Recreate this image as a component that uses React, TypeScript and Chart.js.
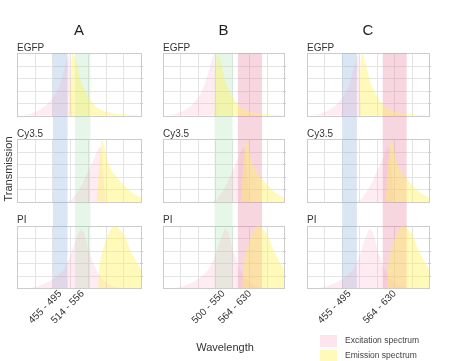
import React, { useEffect, useRef } from "react";
import { Chart, registerables } from "chart.js";

Chart.register(...registerables);

// ---------- data ----------
const panelTitles = ["A", "B", "C"];
const dyeNames = ["EGFP", "Cy3.5", "PI"];
const xAxisTitle = "Wavelength";
const yAxisTitle = "Transmission";
const legendLabels = ["Excitation spectrum", "Emission spectrum"];

const xMin = 360;
const xMax = 690;

const egfpExNm = [375, 390, 405, 420, 435, 450, 462, 474, 484, 492, 499, 503, 507];
const egfpExVal = [0, 0.02, 0.05, 0.09, 0.15, 0.24, 0.34, 0.5, 0.7, 0.88, 1.0, 0.45, 0];
const egfpEmNm = [500, 503, 507, 513, 520, 530, 542, 556, 572, 592, 620, 650, 690];
const egfpEmVal = [0, 0.55, 1.0, 0.95, 0.8, 0.55, 0.38, 0.24, 0.13, 0.07, 0.03, 0.015, 0];

const cyExNm = [480, 495, 507, 520, 535, 550, 562, 572, 580, 585, 590, 596];
const cyExVal = [0, 0.01, 0.04, 0.15, 0.3, 0.5, 0.65, 0.8, 0.88, 0.85, 0.4, 0];
const cyEmNm = [572, 578, 584, 588, 595, 603, 615, 628, 640, 655, 670, 690];
const cyEmVal = [0, 0.5, 0.95, 1.0, 0.82, 0.62, 0.47, 0.38, 0.3, 0.2, 0.13, 0.07];

const piExNm = [395, 420, 445, 465, 485, 500, 515, 528, 538, 550, 565, 585, 610, 635];
const piExVal = [0, 0.04, 0.1, 0.18, 0.3, 0.48, 0.75, 0.95, 0.9, 0.62, 0.36, 0.15, 0.04, 0];
const piEmNm = [576, 580, 586, 597, 608, 618, 630, 645, 660, 675, 690];
const piEmVal = [0, 0.4, 0.56, 0.78, 0.93, 1.0, 0.96, 0.86, 0.62, 0.45, 0.3];

const bandsA = [[455, 495], [514, 556]];
const bandsB = [[500, 550], [564, 630]];
const bandsC = [[455, 495], [564, 630]];
const bandKindsA = ["blue", "green"];
const bandKindsB = ["green", "red"];
const bandKindsC = ["blue", "red"];
const tickLabelsA = ["455 - 495", "514 - 556"];
const tickLabelsB = ["500 - 550", "564 - 630"];
const tickLabelsC = ["455 - 495", "564 - 630"];

// ---------- styles ----------
const FONT = "'Liberation Sans', Arial, Helvetica, sans-serif";
const GAP = 0.38;
const Y_TOP = 3 + 2 * GAP;
const rowBases = [2 * (1 + GAP), 1 + GAP, 0];
const exFill = "rgba(250,150,185,0.18)";
const emFill = "rgba(255,240,90,0.42)";
const bandFill: Record<string, string> = {
  blue: "rgba(125,165,215,0.28)",
  green: "rgba(150,220,165,0.24)",
  red: "rgba(230,120,150,0.3)",
};
const gridColor = "#e4e4e4";
const frameColor = "#cccccc";

const spectra = [
  { exNm: egfpExNm, ex: egfpExVal, emNm: egfpEmNm, em: egfpEmVal },
  { exNm: cyExNm, ex: cyExVal, emNm: cyEmNm, em: cyEmVal },
  { exNm: piExNm, ex: piExVal, emNm: piEmNm, em: piEmVal },
];

const panels = [
  { title: panelTitles[0], bands: bandsA, kinds: bandKindsA, ticks: tickLabelsA, left: 0, width: 150, padL: 17, padR: 9, extra: "y" },
  { title: panelTitles[1], bands: bandsB, kinds: bandKindsB, ticks: tickLabelsB, left: 150, width: 150, padL: 13, padR: 16, extra: "x" },
  { title: panelTitles[2], bands: bandsC, kinds: bandKindsC, ticks: tickLabelsC, left: 300, width: 159, padL: 7, padR: 30, extra: "legend" },
];

function buildDatasets(p: any) {
  const ds: any[] = [];
  p.bands.forEach((b: number[], i: number) => {
    ds.push({
      data: [{ x: b[0], y: Y_TOP }, { x: b[1], y: Y_TOP }],
      fill: { value: 0 },
      backgroundColor: bandFill[p.kinds[i]],
      borderWidth: 0,
      pointRadius: 0,
      tension: 0,
      order: 3,
    });
  });
  spectra.forEach((s, r) => {
    const base = rowBases[r];
    ds.push({
      data: s.exNm.map((x, i) => ({ x, y: base + s.ex[i] })),
      fill: { value: base },
      backgroundColor: exFill,
      borderWidth: 0,
      pointRadius: 0,
      tension: 0,
      order: 2,
    });
    ds.push({
      data: s.emNm.map((x, i) => ({ x, y: base + s.em[i] })),
      fill: { value: base },
      backgroundColor: emFill,
      borderWidth: 0,
      pointRadius: 0,
      tension: 0,
      order: 1,
    });
  });
  return ds;
}

function makeDecor(p: any, idx: number) {
  return {
    id: "decor" + idx,
    beforeDatasetsDraw(chart: any) {
      const ctx = chart.ctx;
      const xs = chart.scales.x;
      const ys = chart.scales.y;
      const l = Math.round(xs.getPixelForValue(xMin));
      const r = Math.round(xs.getPixelForValue(xMax));
      ctx.save();
      ctx.lineWidth = 1;
      rowBases.forEach((base) => {
        const top = Math.round(ys.getPixelForValue(base + 1));
        const bot = Math.round(ys.getPixelForValue(base));
        ctx.strokeStyle = gridColor;
        ctx.beginPath();
        for (let i = 1; i < 7; i++) {
          const px = Math.round(xs.getPixelForValue(xMin + ((xMax - xMin) * i) / 7)) + 0.5;
          ctx.moveTo(px, top);
          ctx.lineTo(px, bot);
        }
        for (let j = 1; j < 5; j++) {
          const py = Math.round(ys.getPixelForValue(base + j / 5)) + 0.5;
          ctx.moveTo(l, py);
          ctx.lineTo(r, py);
        }
        ctx.stroke();
        ctx.strokeStyle = frameColor;
        ctx.strokeRect(l + 0.5, top + 0.5, r - l, bot - top);
        ctx.beginPath();
        for (let j = 1; j < 5; j++) {
          const py = Math.round(ys.getPixelForValue(base + j / 5)) + 0.5;
          ctx.moveTo(r - 1, py);
          ctx.lineTo(r + 2, py);
        }
        ctx.stroke();
      });
      ctx.restore();
    },
    afterDraw(chart: any) {
      const ctx = chart.ctx;
      const ys = chart.scales.y;
      const area = chart.chartArea;
      ctx.save();
      ctx.fillStyle = "#1e1e1e";
      ctx.font = `15px ${FONT}`;
      ctx.textAlign = "center";
      ctx.textBaseline = "alphabetic";
      ctx.fillText(p.title, (area.left + area.right) / 2, 35);
      ctx.fillStyle = "#333";
      ctx.font = `10px ${FONT}`;
      ctx.textAlign = "left";
      rowBases.forEach((base, r) => {
        const top = ys.getPixelForValue(base + 1);
        ctx.fillText(dyeNames[r], area.left, top - 2.5);
      });
      if (p.extra === "y") {
        ctx.font = `11px ${FONT}`;
        ctx.translate(12, 169);
        ctx.rotate(-Math.PI / 2);
        ctx.textAlign = "center";
        ctx.fillText(yAxisTitle, 0, 0);
      } else if (p.extra === "x") {
        ctx.font = `11px ${FONT}`;
        ctx.textAlign = "center";
        ctx.fillText(xAxisTitle, 225 - p.left, 351);
      } else if (p.extra === "legend") {
        ctx.font = `8.5px ${FONT}`;
        ctx.textBaseline = "middle";
        ctx.fillStyle = "rgba(250,150,185,0.25)";
        ctx.fillRect(320 - p.left, 335, 17, 12);
        ctx.fillStyle = emFill;
        ctx.fillRect(320 - p.left, 350, 17, 12);
        ctx.fillStyle = "#444";
        ctx.fillText(legendLabels[0], 345 - p.left, 341);
        ctx.fillText(legendLabels[1], 345 - p.left, 356);
      }
      ctx.restore();
    },
  };
}

function Panel({ p, idx }: { p: any; idx: number }) {
  const ref = useRef<HTMLCanvasElement | null>(null);
  useEffect(() => {
    if (!ref.current) return;
    const centers = p.bands.map((b: number[]) => (b[0] + b[1]) / 2);
    const chart = new Chart(ref.current, {
      type: "line",
      data: { datasets: buildDatasets(p) },
      options: {
        animation: false,
        responsive: false,
        devicePixelRatio: 1,
        events: [],
        layout: { padding: { left: p.padL, right: p.padR, top: 53, bottom: 0 } },
        plugins: {
          legend: { display: false },
          tooltip: { enabled: false },
          title: { display: false },
        },
        scales: {
          x: {
            type: "linear",
            min: xMin,
            max: xMax,
            grid: { display: false, drawTicks: false },
            border: { display: false },
            afterBuildTicks: (s: any) => {
              s.ticks = centers.map((v: number) => ({ value: v }));
            },
            afterFit: (s: any) => {
              s.height = 73;
              s.paddingLeft = 0;
              s.paddingRight = 0;
            },
            ticks: {
              autoSkip: false,
              maxRotation: 45,
              minRotation: 45,
              padding: 0,
              color: "#333",
              font: { family: FONT, size: 10 },
              callback: (_v: any, i: number) => p.ticks[i],
            },
          },
          y: { type: "linear", min: 0, max: Y_TOP, display: false },
        },
      } as any,
      plugins: [makeDecor(p, idx)],
    });
    return () => chart.destroy();
  }, []);
  return (
    <canvas
      ref={ref}
      width={p.width}
      height={361}
      style={{ position: "absolute", left: p.left, top: 0, width: p.width, height: 361, display: "block" }}
    />
  );
}

export default function App() {
  return (
    <div style={{ position: "absolute", left: 0, top: 0, width: 459, height: 361, background: "#fff", overflow: "hidden" }}>
      {panels.map((p, i) => (
        <Panel key={i} p={p} idx={i} />
      ))}
    </div>
  );
}
